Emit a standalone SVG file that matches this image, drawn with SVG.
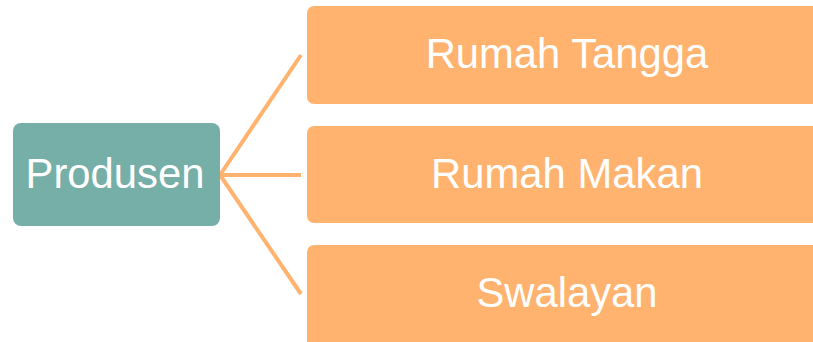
<svg xmlns="http://www.w3.org/2000/svg" width="813" height="342" viewBox="0 0 813 342">
<style>
.lbl{font-family:"Liberation Sans",Arial,sans-serif;font-size:41.8px;fill:#ffffff;text-anchor:middle}
.orange{fill:#FFB36F}
.conn{stroke:#FFB36F;stroke-width:4;fill:none}
</style>
<rect width="813" height="342" fill="#ffffff"/>
<g id="connectors">
<line class="conn" x1="220" y1="175" x2="301" y2="55"/>
<line class="conn" x1="220" y1="175" x2="301" y2="175"/>
<line class="conn" x1="220" y1="175" x2="301" y2="294"/>
</g>
<g id="produsen">
<rect x="13" y="123" width="207" height="103" rx="8" fill="#76AEA8"/>
<text class="lbl" x="115" y="188">Produsen</text>
</g>
<g id="rumah-tangga">
<rect class="orange" x="307" y="6" width="540" height="98" rx="7"/>
<text class="lbl" x="567" y="68">Rumah Tangga</text>
</g>
<g id="rumah-makan">
<rect class="orange" x="307" y="126" width="540" height="97" rx="7"/>
<text class="lbl" x="567" y="188">Rumah Makan</text>
</g>
<g id="swalayan">
<rect class="orange" x="307" y="245" width="540" height="120" rx="7"/>
<text class="lbl" x="567" y="307">Swalayan</text>
</g>
</svg>
